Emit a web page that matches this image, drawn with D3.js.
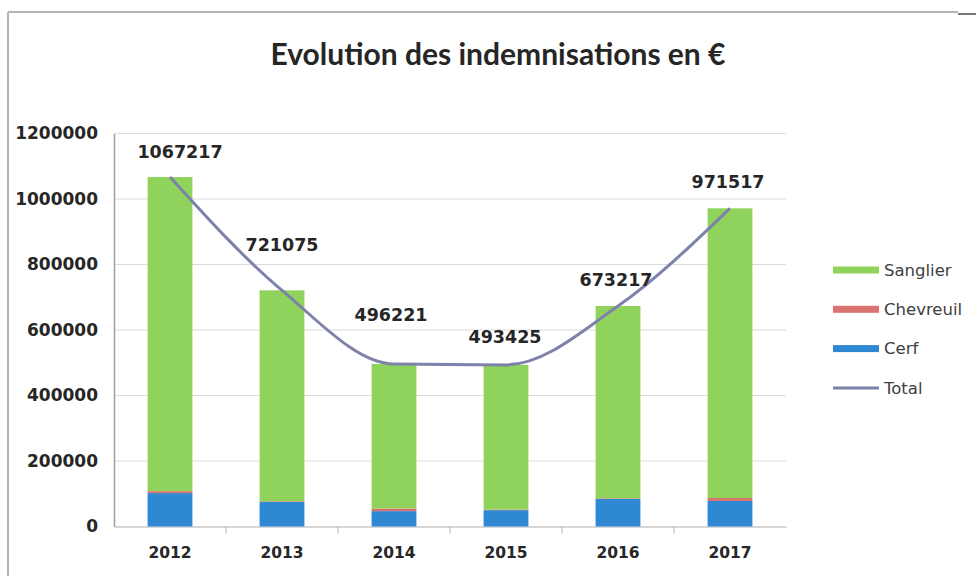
<!DOCTYPE html>
<html>
<head>
<meta charset="utf-8">
<script src="https://cdn.jsdelivr.net/npm/d3@7"></script>
<style>
  body { margin: 0; background: #fff; }
  svg { display: block; }
</style>
</head>
<body>
<script>
// data
var years = ['2012', '2013', '2014', '2015', '2016', '2017'];
var totals = [1067217, 721075, 496221, 493425, 673217, 971517];
var cerf = [102000, 75000, 47000, 50000, 84000, 78000];
var chevreuil = [6000, 2000, 8000, 2000, 2000, 9000];
var sanglier = totals.map(function(t, i) { return t - cerf[i] - chevreuil[i]; });
var yTicks = [0, 200000, 400000, 600000, 800000, 1000000, 1200000];

// total labels were nudged by hand in the original
var labelLift = [25, 45, 49, 28, 26, 26];
var labelShift = [10, 0, -3, -1, -2, -2];

var width = 976, height = 576;
var plot = {left: 114, right: 786, top: 133.5, bottom: 526.5};

var svg = d3.select('body').append('svg')
  .attr('width', width)
  .attr('height', height);

// frame of the scanned chart
svg.append('line').attr('x1', 8).attr('x2', 958).attr('y1', 12).attr('y2', 12)
  .attr('stroke', '#b5b5b5').attr('stroke-width', 2);
svg.append('line').attr('x1', 958).attr('x2', 976).attr('y1', 14).attr('y2', 14)
  .attr('stroke', '#777').attr('stroke-width', 2);
svg.append('line').attr('x1', 8).attr('x2', 8).attr('y1', 12).attr('y2', 576)
  .attr('stroke', '#b5b5b5').attr('stroke-width', 2);

// title
svg.append('text')
  .attr('x', 498)
  .attr('y', 65)
  .attr('text-anchor', 'middle')
  .style('font-family', 'Lato, sans-serif')
  .style('font-weight', 'bold')
  .style('font-size', '30px')
  .style('fill', '#262626')
  .text('Evolution des indemnisations en €');

var x = d3.scaleBand()
  .domain(years)
  .range([plot.left, plot.right])
  .paddingInner(0.6)
  .paddingOuter(0.3);

var y = d3.scaleLinear()
  .domain([0, 1200000])
  .range([plot.bottom, plot.top]);

// gridlines
svg.append('g')
  .selectAll('line')
  .data(yTicks.slice(1))
  .enter()
  .append('line')
  .attr('x1', plot.left)
  .attr('x2', plot.right)
  .attr('y1', function(d) { return y(d); })
  .attr('y2', function(d) { return y(d); })
  .attr('stroke', '#dcdcdc')
  .attr('stroke-width', 1.2);

// y axis
var yAxis = svg.append('g')
  .attr('transform', 'translate(' + plot.left + ',0)')
  .call(d3.axisLeft(y).tickValues(yTicks).tickSize(0).tickPadding(16).tickFormat(d3.format('d')));
yAxis.select('.domain').attr('stroke', '#a0a0a0').attr('stroke-width', 1.5);
yAxis.selectAll('text')
  .style('font-family', 'DejaVu Sans, sans-serif')
  .style('font-weight', 'bold')
  .style('font-size', '17px')
  .style('fill', '#262626');

// x axis
var xAxis = svg.append('g')
  .attr('transform', 'translate(0,' + plot.bottom + ')')
  .call(d3.axisBottom(x).tickSize(0).tickPadding(20));
xAxis.select('.domain').attr('stroke', '#b0b0b0').attr('stroke-width', 1.2);
xAxis.selectAll('text')
  .style('font-family', 'DejaVu Sans, sans-serif')
  .style('font-weight', 'bold')
  .style('font-size', '15.5px')
  .style('fill', '#262626');
// tick marks between categories
xAxis.selectAll('.sep')
  .data(years.slice(1))
  .enter()
  .append('line')
  .attr('class', 'sep')
  .attr('x1', function(d) { return x(d) - x.step() * x.paddingInner() / 2; })
  .attr('x2', function(d) { return x(d) - x.step() * x.paddingInner() / 2; })
  .attr('y1', 0)
  .attr('y2', 7)
  .attr('stroke', '#b0b0b0');

// stacked bars
var series = [
  {name: 'Cerf', values: cerf, color: '#2f88d2'},
  {name: 'Chevreuil', values: chevreuil, color: '#d9736e'},
  {name: 'Sanglier', values: sanglier, color: '#8fd25c'}
];
var rows = years.map(function(yr, i) {
  return {year: yr, Cerf: cerf[i], Chevreuil: chevreuil[i], Sanglier: sanglier[i]};
});
var stack = d3.stack().keys(series.map(function(s) { return s.name; }))(rows);

svg.append('g')
  .selectAll('g')
  .data(stack)
  .enter()
  .append('g')
  .style('fill', function(d, i) { return series[i].color; })
  .selectAll('rect')
  .data(function(d) { return d; })
  .enter()
  .append('rect')
  .attr('x', function(d) { return x(d.data.year); })
  .attr('width', x.bandwidth())
  .attr('y', function(d) { return y(d[1]); })
  .attr('height', function(d) { return y(d[0]) - y(d[1]); });

// total line (smoothed, no overshoot)
var line = d3.line()
  .x(function(d, i) { return x(years[i]) + x.bandwidth() / 2; })
  .y(function(d) { return y(d); })
  .curve(d3.curveMonotoneX);

svg.append('path')
  .datum(totals)
  .attr('d', line)
  .attr('fill', 'none')
  .attr('stroke', '#7d82aa')
  .attr('stroke-width', 3);

// total labels
svg.append('g')
  .selectAll('text')
  .data(totals)
  .enter()
  .append('text')
  .attr('x', function(d, i) { return x(years[i]) + x.bandwidth() / 2 + labelShift[i]; })
  .attr('y', function(d, i) { return y(d) - labelLift[i]; })
  .attr('dy', '0.35em')
  .attr('text-anchor', 'middle')
  .style('font-family', 'DejaVu Sans, sans-serif')
  .style('font-weight', 'bold')
  .style('font-size', '17.5px')
  .style('fill', '#262626')
  .text(function(d) { return d; });

// legend
var legendItems = [
  {name: 'Sanglier', color: '#8fd25c', type: 'rect'},
  {name: 'Chevreuil', color: '#d9736e', type: 'rect'},
  {name: 'Cerf', color: '#2f88d2', type: 'rect'},
  {name: 'Total', color: '#7d82aa', type: 'line'}
];
var legend = svg.append('g')
  .selectAll('g')
  .data(legendItems)
  .enter()
  .append('g')
  .attr('transform', function(d, i) { return 'translate(833,' + (270 + i * 39.3) + ')'; });
legend.filter(function(d) { return d.type === 'rect'; })
  .append('rect')
  .attr('x', 0).attr('y', -3.5).attr('width', 46).attr('height', 7)
  .style('fill', function(d) { return d.color; });
legend.filter(function(d) { return d.type === 'line'; })
  .append('line')
  .attr('x1', 0).attr('x2', 46).attr('y1', 0).attr('y2', 0)
  .attr('stroke', function(d) { return d.color; })
  .attr('stroke-width', 3);
legend.append('text')
  .attr('x', 51)
  .attr('dy', '0.35em')
  .style('font-family', 'DejaVu Sans, sans-serif')
  .style('font-size', '16.5px')
  .style('fill', '#404040')
  .text(function(d) { return d.name; });
</script>
</body>
</html>
